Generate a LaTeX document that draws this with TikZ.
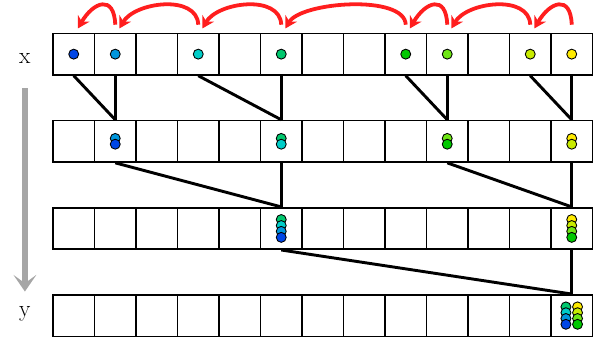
\documentclass[tikz,border=0pt]{standalone}
\usepackage{tikz}
\usetikzlibrary{calc,arrows.meta,positioning}

\definecolor{dotA}{RGB}{0,70,230}
\definecolor{dotB}{RGB}{0,150,220}
\definecolor{dotC}{RGB}{0,205,200}
\definecolor{dotD}{RGB}{0,200,110}
\definecolor{dotE}{RGB}{0,200,0}
\definecolor{dotF}{RGB}{110,230,20}
\definecolor{dotG}{RGB}{200,235,0}
\definecolor{dotH}{RGB}{255,235,0}
\definecolor{jumpred}{RGB}{255,30,30}

\begin{document}
\begin{tikzpicture}[cell/.style={draw, line width=1.1pt, minimum size=1cm, inner sep=0pt},
 ball/.style={draw=black, line width=0.6pt},
 link/.style={line width=2pt},
 axislab/.style={font=\fontsize{16}{19}\selectfont, anchor=base, inner sep=0pt},
 jump/.style={draw=jumpred, line width=2.6pt, -{Stealth[length=0.28cm,width=0.32cm]}}]

    \useasboundingbox (0,0) rectangle (14.41,8.145);

    % the four rows of cells
    \foreach \r/\y in {1/6.84,2/4.74,3/2.64,4/0.54}
      \foreach \c in {1,...,13}
        \node[cell] (r\r-\c) at (0.777+\c,\y) {};

    \node[axislab] (xlab) at (0.6,6.62) {x};
    \node[axislab] (ylab) at (0.6,0.53) {y};

    \coordinate (gtop) at (0.6,6.02);
    \coordinate (gbot) at (0.6,1.12);
    \draw[black!35, line width=4.2pt, -{Stealth[length=0.4cm,width=0.55cm,inset=0.2cm]}] (gtop) -- (gbot);

    % merging lines
    \foreach \a/\b in {1/2,2/2,4/6,6/6,9/10,10/10,12/13,13/13}
      \draw[link] (r1-\a.south) -- (r2-\b.north);
    \foreach \a/\b in {2/6,6/6,10/13,13/13}
      \draw[link] (r2-\a.south) -- (r3-\b.north);
    \foreach \a/\b in {6/13,13/13}
      \draw[link] (r3-\a.south) -- (r4-\b.north);

    % red jumps over the first row
    \foreach \from/\to in {2/1,4/2,6/4,9/6,10/9,12/10,13/12}
      \draw[jump] ($(r1-\from.north)+(0,0.19)$) .. controls +(92:0.74) and +(60:0.74) .. ($(r1-\to.north)+(0.1,0.1)$);

    % first row
    \foreach \c/\col in {1/dotA,2/dotB,4/dotC,6/dotD,9/dotE,10/dotF,12/dotG,13/dotH}
      \draw[ball, fill=\col] (r1-\c) circle (0.12cm);

    % second row
    \foreach \col/\dy in {dotB/0.07,dotA/-0.07}
      \draw[ball, fill=\col] ($(r2-2)+(0,\dy)$) circle (0.12cm);
    \foreach \col/\dy in {dotD/0.07,dotC/-0.07}
      \draw[ball, fill=\col] ($(r2-6)+(0,\dy)$) circle (0.12cm);
    \foreach \col/\dy in {dotF/0.07,dotE/-0.07}
      \draw[ball, fill=\col] ($(r2-10)+(0,\dy)$) circle (0.12cm);
    \foreach \col/\dy in {dotH/0.07,dotG/-0.07}
      \draw[ball, fill=\col] ($(r2-13)+(0,\dy)$) circle (0.12cm);

    % third row
    \foreach \col/\dy in {dotD/0.215,dotC/0.07,dotB/-0.07,dotA/-0.215}
      \draw[ball, fill=\col] ($(r3-6)+(0,\dy)$) circle (0.12cm);
    \foreach \col/\dy in {dotH/0.215,dotG/0.07,dotF/-0.07,dotE/-0.215}
      \draw[ball, fill=\col] ($(r3-13)+(0,\dy)$) circle (0.12cm);

    % last row
    \foreach \col/\dy in {dotD/0.21,dotC/0.07,dotB/-0.07,dotA/-0.21}
      \draw[ball, fill=\col] ($(r4-13)+(-0.14,\dy)$) circle (0.12cm);
    \foreach \col/\dy in {dotH/0.21,dotG/0.07,dotF/-0.07,dotE/-0.21}
      \draw[ball, fill=\col] ($(r4-13)+(0.14,\dy)$) circle (0.12cm);

\end{tikzpicture}
\end{document}
